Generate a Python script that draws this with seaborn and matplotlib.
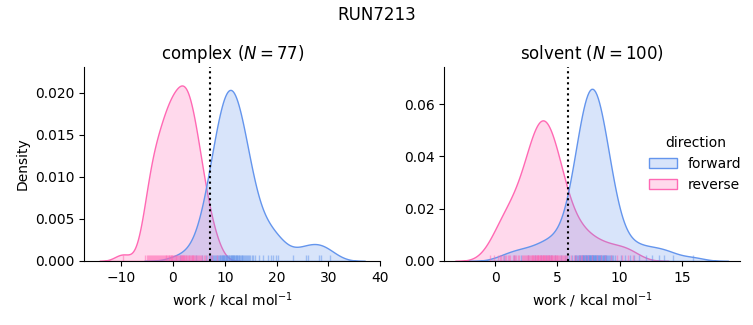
import numpy as np
import pandas as pd
import matplotlib
matplotlib.use("Agg")
import matplotlib.pyplot as plt
import seaborn as sns

# ---- data (work values, kcal/mol) ----
complex_forward = [
    1.3, 4.4, 5.6, 6.3, 6.9, 7.2, 7.4, 7.5,
    7.7, 7.9, 8.1, 8.3, 8.5, 8.7, 8.8, 9.0, 9.1, 9.3, 9.4, 9.5,
    9.6, 9.7, 9.8, 9.9, 10.1, 10.2, 10.3, 10.4, 10.5, 10.6, 10.8, 10.9,
    11.0, 11.1, 11.2, 11.3, 11.4, 11.5,
    11.6, 11.7, 11.8, 11.9, 12.1, 12.2, 12.3, 12.4, 12.5, 12.7, 12.8, 13.0,
    13.1, 13.3, 13.4, 13.5,
    13.7, 13.8, 14.0, 14.2, 14.4, 14.6, 14.9, 15.2, 15.5, 15.8,
    16.6, 17.4, 18.4, 18.9, 19.3, 19.8, 20.3, 23.2, 25.7, 26.1, 28.2, 28.6, 30.2,
]
complex_reverse = [
    -9.7,
    -5.3, -5.0, -4.8, -4.6, -4.5, -4.3, -4.1,
    -3.9, -3.6, -3.4, -3.2, -3.0, -2.8, -2.6, -2.5, -2.3, -2.1,
    -1.9, -1.8, -1.6, -1.4, -1.3, -1.1, -1.0, -0.8, -0.7, -0.5, -0.4, -0.3, -0.2, -0.1,
    0.1, 0.2, 0.4, 0.5, 0.6, 0.8, 0.9, 1.2, 1.3, 1.5, 1.6, 1.7, 1.8, 1.9, 2.0,
    2.1, 2.2, 2.3, 2.5, 2.6, 2.7, 2.9, 3.0, 3.1, 3.3, 3.4, 3.6, 3.7, 3.8, 3.9,
    4.1, 4.2, 4.4, 4.6, 4.8, 5.0, 5.2, 5.4, 5.6, 5.9,
    6.2, 6.6, 7.1, 7.6,
    8.5,
]
solvent_forward = [
    0.7, 1.5, 2.1, 2.6, 3.2, 3.7, 4.1, 4.3, 4.5, 4.8,
    5.3, 5.6, 5.8, 5.95,
    6.2, 6.38, 6.45, 6.52, 6.58, 6.64, 6.7, 6.75, 6.8, 6.85, 6.9, 6.94, 6.98,
    7.02, 7.05, 7.09, 7.12, 7.16, 7.19, 7.23, 7.26, 7.3, 7.33, 7.37, 7.4, 7.44, 7.47,
    7.51, 7.54, 7.58, 7.61, 7.63, 7.65, 7.68, 7.72, 7.75, 7.79, 7.82, 7.84, 7.86, 7.9,
    7.94, 7.97,
    8.01, 8.03, 8.05, 8.09, 8.13, 8.17, 8.21, 8.25, 8.29, 8.33, 8.37, 8.41, 8.45,
    8.5, 8.54, 8.58, 8.63, 8.67, 8.72, 8.76, 8.8, 8.85, 8.89, 8.93, 8.97,
    9.06, 9.14, 9.23, 9.31, 9.4, 9.5, 9.61,
    10.15, 10.4,
    10.8, 11.2, 11.6, 12.1, 12.6, 13.2, 13.6, 14.3, 15.9,
]
solvent_reverse = [
    -0.4, -0.1,
    0.2, 0.4, 0.5, 0.6, 0.8, 0.9, 1.0,
    1.1, 1.2, 1.4, 1.5, 1.6, 1.7, 1.8, 1.9,
    2.17, 2.25, 2.32, 2.4, 2.47, 2.54, 2.6, 2.67, 2.73, 2.8, 2.86, 2.92, 2.97,
    3.02, 3.07, 3.12, 3.17, 3.22, 3.27, 3.32, 3.37, 3.42, 3.45, 3.47, 3.52, 3.57, 3.62,
    3.67, 3.72, 3.77, 3.82, 3.85, 3.86, 3.9, 3.94, 3.98,
    4.03, 4.08, 4.13, 4.19, 4.24, 4.25, 4.3, 4.36, 4.42, 4.48, 4.5, 4.54, 4.6, 4.66,
    4.72, 4.78, 4.84, 4.9, 4.95, 4.99,
    5.05, 5.13, 5.2, 5.28, 5.36, 5.44, 5.52, 5.6, 5.68, 5.76,
    6.1, 6.3, 6.5, 6.7, 6.9, 6.95,
    7.2, 7.5, 7.8,
    8.2, 8.5, 8.8,
    9.3, 9.8,
    10.2, 10.7,
    11.1,
]
phases = ["complex", "solvent"]
free_energy = {"complex": 7.2, "solvent": 5.85}
xlims = {"complex": (-17.1, 40.0), "solvent": (-4.1, 19.7)}
ylims = {"complex": (0, 0.0231), "solvent": (0, 0.0742)}
palette = {"forward": "cornflowerblue", "reverse": "hotpink"}
directions = ["forward", "reverse"]

rows = []
for ph, fw, rv in [("complex", complex_forward, complex_reverse),
                   ("solvent", solvent_forward, solvent_reverse)]:
    for v in fw:
        rows.append((ph, "forward", v))
    for v in rv:
        rows.append((ph, "reverse", v))
df = pd.DataFrame(rows, columns=["phase", "direction", "work"])

fig, axes = plt.subplots(1, 2, figsize=(7.53, 3.25), dpi=100)
fig.subplots_adjust(left=0.112, right=0.983, bottom=0.197, top=0.794, wspace=0.216)

for ax, ph in zip(axes, phases):
    # density normalised over all work values of the run (both phases)
    d = df.copy()
    d["hue"] = d["direction"].where(d["phase"] == ph, "other")
    sub = df[df["phase"] == ph]
    n = int((sub["direction"] == "forward").sum())
    sns.kdeplot(data=d, x="work", hue="hue", hue_order=directions, palette=palette,
                fill=True, common_norm=True, ax=ax, legend=(ph == "solvent"))
    sns.rugplot(data=sub, x="work", hue="direction", hue_order=directions, palette=palette,
                height=0.03, alpha=0.5, ax=ax, legend=False)
    ax.axvline(free_energy[ph], color="k", ls=":")
    ax.set_xlim(*xlims[ph])
    ax.set_ylim(*ylims[ph])
    ax.set_title(f"{ph} ($N={n}$)")
    ax.set_xlabel(r"work / kcal mol$^{-1}$")
    ax.set_ylabel("Density" if ph == "complex" else "")
    sns.despine(ax=ax)

sns.move_legend(axes[1], "center right", bbox_to_anchor=(1.047, 0.5), frameon=False, title="direction")
fig.suptitle("RUN7213")
fig.savefig("out.png", dpi=100)
